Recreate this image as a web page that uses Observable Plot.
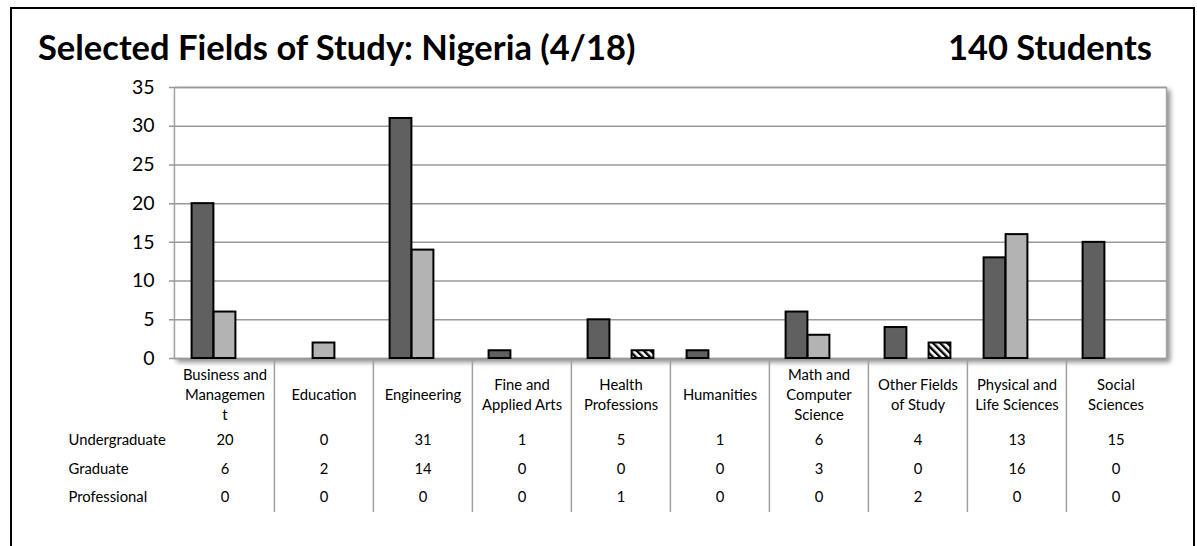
<!DOCTYPE html>
<html>
<head>
<meta charset="utf-8">
<script src="https://cdn.jsdelivr.net/npm/d3@7"></script>
<script src="https://cdn.jsdelivr.net/npm/@observablehq/plot@0.6"></script>
<style>
  html, body { margin: 0; padding: 0; background: #fff; }
  body { position: relative; width: 1197px; height: 546px; overflow: hidden; font-family: Lato, "Noto Sans", sans-serif; }
  #frame { position: absolute; left: 10px; top: 7px; width: 1181px; height: 620px; border: 2px solid #000; box-sizing: content-box; }
  .title { position: absolute; top: 27px; font-weight: 700; font-size: 34.5px; line-height: 40px; color: #000; white-space: nowrap; }
  #t1 { left: 38px; }
  #t2 { right: 45px; }
  #chart { position: absolute; left: 0; top: 70px; }
  #chart svg [aria-label="frame"] { filter: drop-shadow(3px 3px 2.5px rgba(0,0,0,0.45)); }
</style>
</head>
<body>
<div id="frame"></div>
<div class="title" id="t1">Selected Fields of Study: Nigeria (4/18)</div>
<div class="title" id="t2">140 Students</div>
<div id="chart"></div>
<script>
// ---- data ----
const categories = ["Business and Management", "Education", "Engineering", "Fine and Applied Arts", "Health Professions", "Humanities", "Math and Computer Science", "Other Fields of Study", "Physical and Life Sciences", "Social Sciences"];
const categoryLabels = ["Business and\nManagemen\nt", "Education", "Engineering", "Fine and\nApplied Arts", "Health\nProfessions", "Humanities", "Math and\nComputer\nScience", "Other Fields\nof Study", "Physical and\nLife Sciences", "Social\nSciences"];
const seriesNames = ["Undergraduate", "Graduate", "Professional"];
const undergraduate = [20, 0, 31, 1, 5, 1, 6, 4, 13, 15];
const graduate = [6, 2, 14, 0, 0, 0, 3, 0, 16, 0];
const professional = [0, 0, 0, 0, 1, 0, 0, 2, 0, 0];
const yTicks = [0, 5, 10, 15, 20, 25, 30, 35];
const totalLabel = "140 Students";

// ---- build ----
const seriesValues = [undergraduate, graduate, professional];
const rows = categories.map((c, i) => ({category: c, label: categoryLabels[i], u: undergraduate[i], g: graduate[i], p: professional[i]}));
const seriesFill = ["#606060", "#b3b3b3", "url(#hatch)"];
const barOffsets = [-22, 0, 22];
const rowDy = [82, 111, 139];

const width = 1197, height = 460;
const marginLeft = 174, marginRight = 31, marginTop = 17, marginBottom = 172;
const plotH = height - marginTop - marginBottom;
const bandW = (width - marginLeft - marginRight) / categories.length;
const barW = 22;
const fs = 14.8;

const marks = [
  Plot.frame({fill: "white", stroke: "#a6a6a6", strokeWidth: 1.5}),
  Plot.ruleY(yTicks, {y: d => d, stroke: "#999", strokeWidth: 1.5, insetLeft: -5}),
  Plot.axisY(yTicks, {tickSize: 0, tickPadding: 20, fontSize: 19.5, label: null}),
];
seriesValues.forEach((vals, s) => {
  marks.push(Plot.barY(categories.map((c, i) => ({category: c, value: vals[i]})).filter(d => d.value > 0), {
    x: "category", y: "value", fill: seriesFill[s], stroke: "#000", strokeWidth: 2,
    dx: barOffsets[s], insetLeft: (bandW - barW) / 2, insetRight: (bandW - barW) / 2
  }));
});
// table separators
marks.push(Plot.ruleX(categories.slice(1), {x: d => d, dx: -bandW / 2, stroke: "#a0a0a0", strokeWidth: 1.5, insetTop: plotH, insetBottom: -154}));
// category labels
marks.push(Plot.text(rows, {x: "category", text: "label", frameAnchor: "bottom", dy: 35, lineAnchor: "middle", lineHeight: 1.36, fontSize: fs}));
// table rows
["u", "g", "p"].forEach((k, r) => {
  marks.push(Plot.text(rows, {x: "category", text: d => String(d[k]), frameAnchor: "bottom", dy: rowDy[r], lineAnchor: "middle", fontSize: fs}));
  marks.push(Plot.text([seriesNames[r]], {text: d => d, frameAnchor: "bottom-left", textAnchor: "start", dx: 68 - marginLeft, dy: rowDy[r], lineAnchor: "middle", fontSize: fs}));
});

const svg = Plot.plot({
  width, height, marginLeft, marginRight, marginTop, marginBottom,
  style: {fontFamily: "Lato, 'Noto Sans', sans-serif", fontSize: "14px", color: "#000", background: "transparent", overflow: "visible"},
  x: {domain: categories, padding: 0, axis: null},
  y: {domain: [0, 35], axis: null, label: null},
  marks
});

// hatch pattern for Professional
const defs = d3.select(svg).insert("defs", ":first-child");
const pat = defs.append("pattern").attr("id", "hatch").attr("patternUnits", "userSpaceOnUse")
  .attr("width", 5).attr("height", 5).attr("patternTransform", "rotate(-45)");
pat.append("rect").attr("width", 5).attr("height", 5).attr("fill", "#fff");
pat.append("rect").attr("width", 2.4).attr("height", 5).attr("fill", "#000");

document.getElementById("chart").appendChild(svg);
document.getElementById("t2").textContent = totalLabel;
</script>
</body>
</html>
